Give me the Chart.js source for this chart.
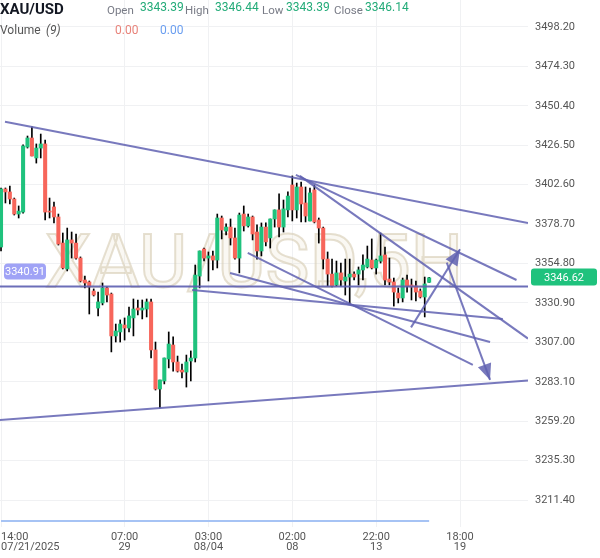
<!DOCTYPE html>
<html>
<head>
<meta charset="utf-8">
<script src="https://cdn.jsdelivr.net/npm/chart.js@4.4.0/dist/chart.umd.min.js"></script>
<style>
  html, body { margin: 0; padding: 0; background: #fff; }
</style>
</head>
<body>
<canvas id="myChart" width="600" height="558"></canvas>
<script>
// datos velas XAU/USD 5H (indice = vela)
const opens = [3364.8, 3400.0, 3398.2, 3393.9, 3384.8, 3386.0, 3425.4, 3430.9, 3418.8, 3424.8,
  3427.3, 3386.6, 3389.1, 3383.0, 3367.2, 3351.5, 3369.1, 3367.2, 3358.1, 3344.8,
  3343.6, 3338.1, 3327.8, 3330.9, 3340.0, 3336.3, 3310.9, 3313.3, 3317.5, 3315.7,
  3321.8, 3327.8, 3326.6, 3327.2, 3331.5, 3302.4, 3278.7, 3283.6, 3296.9, 3305.4,
  3295.1, 3290.2, 3289.0, 3295.7, 3297.5, 3347.2, 3363.6, 3358.1, 3359.4, 3356.9,
  3382.4, 3374.5, 3376.9, 3370.3, 3358.1, 3384.8, 3377.6, 3383.0, 3373.9, 3362.4,
  3376.9, 3370.3, 3381.8, 3387.3, 3376.9, 3387.3, 3402.4, 3387.3, 3401.2, 3391.5,
  3380.6, 3399.4, 3381.2, 3376.3, 3357.5, 3348.4, 3341.8, 3349.1, 3344.2, 3346.6,
  3348.4, 3348.4, 3350.9, 3352.7, 3356.9, 3352.1, 3356.3, 3360.0, 3345.4, 3343.6,
  3336.9, 3333.9, 3344.8, 3341.8, 3341.2, 3338.1, 3334.5, 3343.39];
const highs = [3400.6, 3400.6, 3401.8, 3394.5, 3389.7, 3426.7, 3432.1, 3437.6, 3427.3, 3433.3,
  3429.7, 3394.5, 3392.1, 3384.8, 3373.3, 3376.3, 3373.9, 3372.7, 3358.8, 3347.2,
  3344.2, 3339.4, 3337.5, 3343.0, 3340.6, 3336.9, 3318.1, 3320.6, 3321.8, 3328.4,
  3333.3, 3332.7, 3332.7, 3333.3, 3333.3, 3307.2, 3284.2, 3297.5, 3313.3, 3310.3,
  3298.7, 3293.9, 3299.3, 3301.8, 3353.9, 3362.4, 3364.2, 3361.8, 3362.4, 3384.8,
  3383.6, 3378.8, 3381.8, 3376.3, 3385.4, 3389.7, 3384.8, 3383.6, 3378.2, 3379.4,
  3379.4, 3381.8, 3387.3, 3397.0, 3393.3, 3398.2, 3407.9, 3403.6, 3404.2, 3401.2,
  3400.6, 3402.4, 3382.4, 3376.9, 3361.8, 3357.5, 3356.3, 3355.1, 3357.5, 3357.5,
  3349.7, 3352.7, 3360.0, 3365.4, 3369.7, 3357.5, 3373.3, 3364.8, 3358.1, 3346.0,
  3340.0, 3346.0, 3347.8, 3345.4, 3344.2, 3339.4, 3346.6, 3346.44];
const lows = [3362.4, 3391.5, 3390.9, 3384.2, 3382.4, 3385.4, 3424.8, 3420.0, 3415.7, 3418.8,
  3381.2, 3382.4, 3379.4, 3366.0, 3351.5, 3350.3, 3358.1, 3357.5, 3343.6, 3340.0,
  3324.2, 3335.1, 3323.0, 3329.7, 3331.5, 3301.2, 3307.2, 3307.2, 3308.4, 3313.3,
  3310.9, 3323.6, 3321.2, 3322.4, 3297.5, 3278.1, 3267.2, 3281.8, 3291.5, 3289.6,
  3289.0, 3285.4, 3279.9, 3283.6, 3295.1, 3340.0, 3356.3, 3344.2, 3350.9, 3352.1,
  3369.7, 3372.1, 3366.0, 3357.5, 3349.1, 3374.5, 3376.9, 3369.1, 3357.5, 3359.4,
  3365.4, 3364.2, 3376.9, 3370.9, 3373.9, 3383.0, 3380.6, 3382.4, 3380.0, 3380.0,
  3380.6, 3379.4, 3367.2, 3351.5, 3341.2, 3340.6, 3341.2, 3341.2, 3335.7, 3330.3,
  3344.8, 3341.8, 3344.8, 3352.1, 3351.5, 3348.4, 3355.1, 3341.8, 3341.8, 3329.0,
  3330.9, 3331.5, 3337.5, 3332.7, 3332.1, 3333.9, 3322.4, 3343.39];
const closes = [3400.0, 3398.2, 3393.9, 3384.8, 3386.6, 3426.1, 3430.9, 3420.0, 3424.8, 3427.3,
  3386.0, 3386.0, 3383.0, 3366.6, 3352.1, 3369.1, 3367.2, 3358.1, 3344.2, 3343.0,
  3340.6, 3335.7, 3331.5, 3340.0, 3335.7, 3310.9, 3313.9, 3318.1, 3315.7, 3323.0,
  3327.2, 3326.6, 3327.8, 3331.5, 3302.4, 3278.7, 3284.2, 3297.5, 3306.0, 3295.1,
  3289.6, 3289.0, 3295.1, 3297.5, 3347.8, 3362.4, 3358.1, 3359.4, 3356.9, 3382.4,
  3375.1, 3376.9, 3370.3, 3358.1, 3384.2, 3377.6, 3383.0, 3372.7, 3362.4, 3376.9,
  3367.9, 3381.8, 3387.3, 3376.9, 3387.9, 3395.7, 3387.3, 3401.2, 3390.9, 3383.6,
  3397.6, 3380.0, 3376.3, 3357.5, 3348.4, 3341.2, 3349.1, 3344.8, 3346.6, 3348.4,
  3346.6, 3350.9, 3353.9, 3357.5, 3352.1, 3356.9, 3359.4, 3344.8, 3343.6, 3337.5,
  3333.9, 3344.8, 3341.2, 3340.6, 3337.5, 3334.5, 3342.4, 3346.14];
// volumen (9) = 0
const volumeMA = [0, 0, 0, 0, 0, 0, 0, 0, 0, 0, 0, 0, 0, 0, 0, 0, 0, 0, 0, 0,
  0, 0, 0, 0, 0, 0, 0, 0, 0, 0, 0, 0, 0, 0, 0, 0, 0, 0, 0, 0,
  0, 0, 0, 0, 0, 0, 0, 0, 0, 0, 0, 0, 0, 0, 0, 0, 0, 0, 0, 0,
  0, 0, 0, 0, 0, 0, 0, 0, 0, 0, 0, 0, 0, 0, 0, 0, 0, 0, 0, 0,
  0, 0, 0, 0, 0, 0, 0, 0, 0, 0, 0, 0, 0, 0, 0, 0, 0, 0];

// ejes
const xTickPos = [0, 28, 47, 66, 85, 104];
const xTickLabels = [['14:00', '07/21/2025'], ['07:00', '29'], ['03:00', '08/04'], ['02:00', '08'], ['22:00', '13'], ['18:00', '19']];
const yTicks = [3211.4, 3235.3, 3259.2, 3283.1, 3307.0, 3330.9, 3354.8, 3378.7, 3402.6, 3426.5, 3450.4, 3474.3, 3498.2];

// lineas de tendencia [indice, precio]
const lineA = [[0.9, 3440.8], [119.4, 3379.4]];
const lineB = [[66.8, 3408.5], [116.8, 3344.8]];
const lineC = [[67.7, 3407.9], [119.4, 3309.3]];
const lineE = [[43.3, 3338.7], [113.7, 3321.2]];
const lineF = [[51.9, 3349.1], [110.8, 3307.2]];
const lineG = [[55.9, 3361.2], [106.9, 3293.3]];
const lineH = [[-0.3, 3259.9], [119.4, 3283.9]];
const hLevel = 3340.91;
const hLine = [[-0.3, hLevel], [119.4, hLevel]];
const arrowUp = [[92.9, 3316.1], [104.0, 3363.4]];
const arrowDown = [[101.0, 3355.3], [110.8, 3284.2]];
const lastPrice = 3346.62;

const verde = '#1fc27d';
const rojo = '#f7665b';
const lila = 'rgba(96,98,178,0.85)';

function trazo(puntos, extra) {
    var ds = {
        type: 'line',
        data: puntos.map(p => ({ x: p[0], y: p[1] })),
        borderColor: lila,
        borderWidth: 2,
        pointRadius: 0,
        tension: 0,
        order: 0
    };
    return Object.assign(ds, extra || {});
}

// watermark + textos + flechas
const dibujos = {
    id: 'dibujos',
    beforeDatasetsDraw(chart) {
        const ctx = chart.ctx;
        const a = chart.chartArea;
        ctx.save();
        ctx.beginPath();
        ctx.rect(a.left, a.top, a.right - a.left, a.bottom - a.top);
        ctx.clip();
        ctx.font = '74px Roboto';
        ctx.textAlign = 'left';
        ctx.textBaseline = 'alphabetic';
        ctx.fillStyle = 'rgba(230,222,200,0.22)';
        ctx.fillText('XAU/USD,5H', 45, 287, 434);
        ctx.strokeStyle = 'rgba(214,204,178,0.6)';
        ctx.lineWidth = 2;
        ctx.strokeText('XAU/USD,5H', 45, 287, 434);
        ctx.restore();
    },
    afterDatasetsDraw(chart) {
        const ctx = chart.ctx;
        chart.data.datasets.forEach((ds, i) => {
            if (!ds.flecha) return;
            const meta = chart.getDatasetMeta(i);
            const p0 = meta.data[0], p1 = meta.data[1];
            const ang = Math.atan2(p1.y - p0.y, p1.x - p0.x);
            const largo = 16, ancho = 7;
            const bx = p1.x - largo * Math.cos(ang), by = p1.y - largo * Math.sin(ang);
            ctx.save();
            ctx.fillStyle = lila;
            ctx.beginPath();
            ctx.moveTo(p1.x, p1.y);
            ctx.lineTo(bx - ancho * Math.sin(ang), by + ancho * Math.cos(ang));
            ctx.lineTo(bx + ancho * Math.sin(ang), by - ancho * Math.cos(ang));
            ctx.closePath();
            ctx.fill();
            ctx.restore();
        });
    },
    afterDraw(chart) {
        const ctx = chart.ctx;
        const y = chart.scales.y;
        ctx.save();
        ctx.textBaseline = 'alphabetic';
        ctx.textAlign = 'left';
        ctx.font = 'bold 15px Roboto';
        ctx.fillStyle = '#131722';
        ctx.fillText('XAU/USD', 0, 14);

        ctx.font = '11.5px Roboto';
        ctx.fillStyle = '#787b86';
        ctx.fillText('Open', 107, 14);
        ctx.fillText('High', 185, 14);
        ctx.fillText('Low', 262, 14);
        ctx.fillText('Close', 334, 14);
        ctx.font = '12px Roboto';
        ctx.fillStyle = '#22ab78';
        ctx.fillText(opens[97].toFixed(2), 140, 11);
        ctx.fillText(highs[97].toFixed(2), 215, 11);
        ctx.fillText(lows[97].toFixed(2), 286, 11);
        ctx.fillText(closes[97].toFixed(2), 365, 11);

        ctx.fillStyle = '#555';
        ctx.fillText('Volume', 0, 34);
        ctx.font = 'italic 12px Roboto';
        ctx.fillText('(9)', 46, 34);
        ctx.font = '12px Roboto';
        ctx.fillStyle = '#e8837a';
        ctx.fillText(volumeMA[97].toFixed(2), 115, 34);
        ctx.fillStyle = '#6a9ef0';
        ctx.fillText(volumeMA[96].toFixed(2), 160, 34);

        // etiqueta linea horizontal
        var yh = y.getPixelForValue(hLevel) - 15;
        ctx.fillStyle = '#a0a3f6';
        ctx.beginPath();
        ctx.roundRect(4, yh - 8, 42, 16, 4);
        ctx.fill();
        ctx.fillStyle = '#fff';
        ctx.font = '11px Roboto';
        ctx.textAlign = 'center';
        ctx.textBaseline = 'middle';
        ctx.fillText(hLevel.toFixed(2), 25, yh + 1);

        // precio actual
        var yp = y.getPixelForValue(lastPrice);
        ctx.fillStyle = verde;
        ctx.beginPath();
        ctx.roundRect(531, yp - 8.5, 66, 17, 3);
        ctx.fill();
        ctx.fillStyle = '#fff';
        ctx.fillText(lastPrice.toFixed(2), 564, yp + 1);
        ctx.restore();
    }
};

Chart.defaults.font.family = 'Roboto';

const ctx = document.getElementById('myChart').getContext('2d');
const myChart = new Chart(ctx, {
    type: 'bar',
    data: {
        datasets: [
            trazo(lineA), trazo(lineB), trazo(lineC), trazo(lineE), trazo(lineF), trazo(lineG), trazo(lineH),
            trazo(hLine, { borderColor: 'rgba(92,94,176,0.9)' }),
            trazo(arrowUp, { flecha: true }),
            trazo(arrowDown, { flecha: true }),
            {
                type: 'line',
                data: volumeMA.map((v, i) => ({ x: i, y: v })),
                yAxisID: 'y2',
                borderColor: '#a6c3f4',
                borderWidth: 2,
                pointRadius: 0,
                order: 3
            },
            {
                label: 'cuerpo',
                data: opens.map((o, i) => ({ x: i, y: [o, closes[i]] })),
                backgroundColor: c => closes[c.dataIndex] >= opens[c.dataIndex] ? verde : rojo,
                barThickness: 3.4,
                minBarLength: 1,
                grouped: false,
                order: 1
            },
            {
                label: 'mecha',
                data: opens.map((o, i) => ({ x: i, y: [lows[i], highs[i]] })),
                backgroundColor: '#000',
                barThickness: 1,
                grouped: false,
                order: 2
            }
        ]
    },
    options: {
        responsive: false,
        animation: false,
        layout: { padding: 0 },
        plugins: {
            legend: { display: false },
            tooltip: { enabled: false }
        },
        scales: {
            x: {
                type: 'linear',
                offset: false,
                min: -0.23,
                max: 119.4,
                afterBuildTicks: s => { s.ticks = xTickPos.concat([119.4]).map(v => ({ value: v })); },
                afterFit: s => { s.height = 31; s.paddingLeft = 0; s.paddingRight = 0; },
                border: { display: false },
                grid: {
                    offset: false,
                    drawTicks: false,
                    color: c => c.index >= xTickPos.length ? 'rgba(0,0,0,0)' : '#f0f1f3'
                },
                ticks: {
                    autoSkip: false,
                    maxRotation: 0,
                    align: 'inner',
                    padding: 5,
                    color: '#555',
                    font: { size: 11, lineHeight: 0.95 },
                    callback: (v, i) => xTickLabels[i] || ''
                }
            },
            y: {
                position: 'right',
                min: 3195.05,
                max: 3514.57,
                afterBuildTicks: s => { s.ticks = yTicks.map(v => ({ value: v })); },
                afterFit: s => { s.width = 72; s.paddingTop = 0; s.paddingBottom = 0; },
                border: { display: false },
                grid: { drawTicks: false, color: '#f0f1f3' },
                ticks: {
                    padding: 7,
                    color: '#555',
                    font: { size: 11 },
                    callback: v => v.toFixed(2)
                }
            },
            y2: {
                display: false,
                min: -0.0115,
                max: 1
            }
        }
    },
    plugins: [dibujos]
});
</script>
</body>
</html>
